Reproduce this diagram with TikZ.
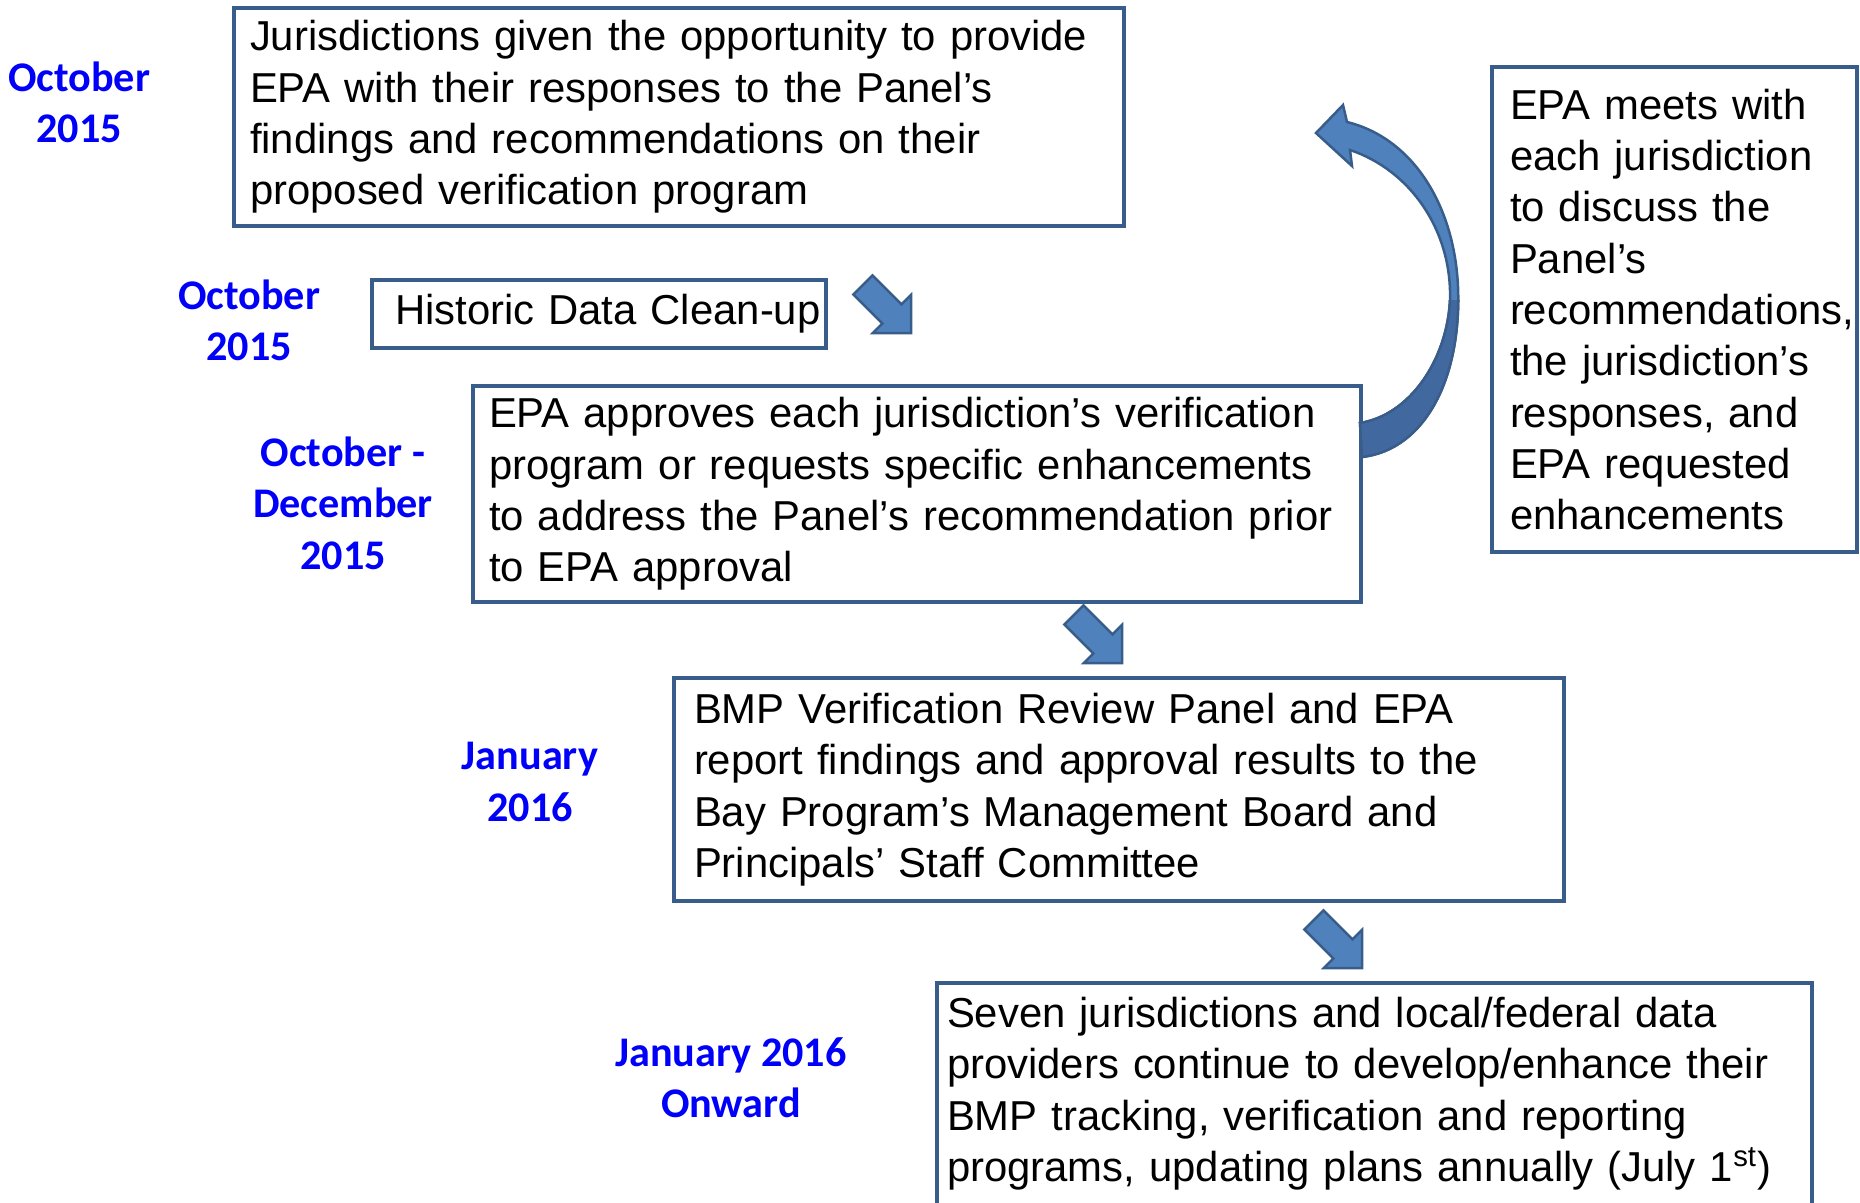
\documentclass[tikz,border=0pt]{standalone}
\usepackage{xcolor}
\usepackage{fontspec}
\setmainfont{Liberation Sans}
\newfontfamily\datefont{Carlito}
\usepackage{tikz}

\definecolor{boxline}{HTML}{385D8A}
\definecolor{arrfill}{HTML}{4F81BD}
\definecolor{arrdark}{HTML}{4169A0}
\definecolor{datecol}{RGB}{0,0,250}

\tikzset{
  pics/blkarrow/.style={code={
    \filldraw[fill=arrfill, draw=boxline, line width=0.025cm]
      (0,0) -- (-27,27) -- (-27,13.5) -- (-68,13.5) -- (-68,-13.5)
      -- (-27,-13.5) -- (-27,-27) -- cycle;
  }}
}

\begin{document}
\begin{tikzpicture}[x=0.01cm, y=-0.01cm,
    stepbox/.style={draw=boxline, line width=0.04cm, anchor=north west, align=left,
      inner ysep=0pt, font=\fontsize{11.9}{14.6}\selectfont},
    datelbl/.style={align=center, text=datecol, font=\datefont\bfseries\fontsize{12}{14.6}\selectfont}]
    \clip (0,0) rectangle (1860,1202);

    \node[stepbox, inner xsep=0.16cm, text width=8.57cm, minimum height=2.18cm] (jur) at (232,6)
      {Jurisdictions given the opportunity to provide\\EPA with their responses to the Panel’s\\findings and recommendations on their\\proposed verification program};
    \node[stepbox, inner xsep=0.23cm, text width=4.08cm, minimum height=0.68cm] (clean) at (370,278)
      {\mbox{Historic Data Clean-up}};
    \node[stepbox, inner xsep=0.16cm, text width=8.55cm, minimum height=2.16cm] (approve) at (471,384)
      {EPA approves each jurisdiction’s verification\\program or requests specific enhancements\\\mbox{to address the Panel’s recommendation prior}\\to EPA approval};
    \node[stepbox, inner xsep=0.20cm, text width=8.49cm, minimum height=2.23cm] (report) at (672,676)
      {BMP Verification Review Panel and EPA\\report findings and approval results to the\\Bay Program’s Management Board and\\Principals’ Staff Committee};
    \node[stepbox, inner xsep=0pt, minimum width=8.74cm, minimum height=2.6cm] (develop) at (935,981) {};
    \node[stepbox, draw=none, inner xsep=0.1cm, inner ysep=0.14cm, text width=8.5cm] (developtxt) at (develop.north west)
      {Seven jurisdictions and local/federal data\\providers continue to develop/enhance their\\BMP tracking, verification and reporting\\programs, updating plans annually (July 1\textsuperscript{st})};
    \node[stepbox, inner xsep=0.18cm, text width=3.29cm, minimum height=4.85cm] (meet) at (1490,65)
      {EPA meets with\\each jurisdiction\\to discuss the\\Panel’s\\\mbox{recommendations,}\\the jurisdiction’s\\responses, and\\EPA requested\\enhancements};

    \node[datelbl] (d1) at (79,102) {October\\2015};
    \node[datelbl] (d2) at (249,320) {October\\2015};
    \node[datelbl] (d3) at (343,503) {October -\\December\\2015};
    \node[datelbl] (d4) at (530,782) {January\\2016};
    \node[datelbl] (d5) at (731,1078) {January 2016\\Onward};

    \pic[rotate=-45] at (911,333) {blkarrow};
    \pic[rotate=-45] at (1122,663) {blkarrow};
    \pic[rotate=-45] at (1362,968) {blkarrow};

    \filldraw[fill=arrfill, draw=boxline, line width=0.025cm]
      (1350,150) -- (1352,166) -- (1316,133) -- (1343,105) -- (1347,122)
      .. controls (1420,140) and (1462,220) .. (1458,310)
      .. controls (1455,390) and (1420,450) .. (1362,457) -- (1360,423)
      .. controls (1410,415) and (1447,360) .. (1450,300)
      .. controls (1452,230) and (1410,170) .. (1350,150) -- cycle;
    \begin{scope}
      \clip (1300,300) rectangle (1500,480);
      \filldraw[fill=arrdark, draw=boxline, line width=0.025cm]
        (1347,122) .. controls (1420,140) and (1462,220) .. (1458,310)
        .. controls (1455,390) and (1420,450) .. (1362,457) -- (1360,423)
        .. controls (1410,415) and (1447,360) .. (1450,300)
        .. controls (1452,230) and (1410,170) .. (1350,150) -- cycle;
    \end{scope}
\end{tikzpicture}
\end{document}
